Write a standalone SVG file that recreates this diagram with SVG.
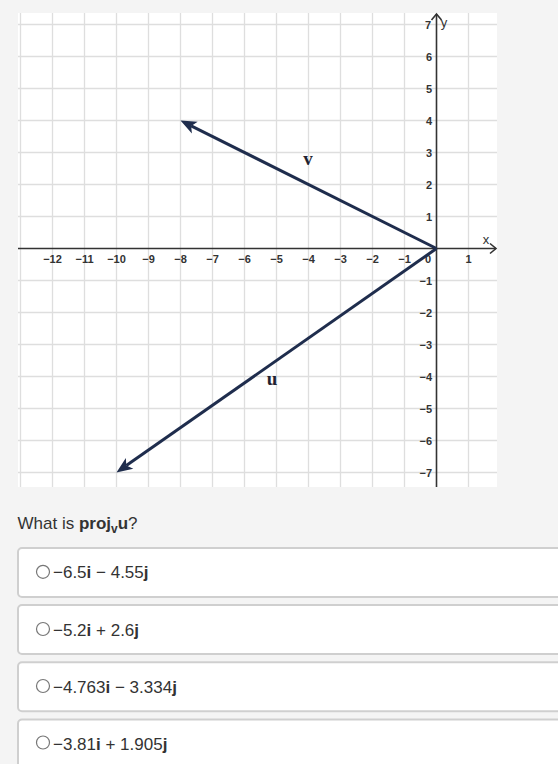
<svg xmlns="http://www.w3.org/2000/svg" width="558" height="764" viewBox="0 0 558 764">
<style>
.grid{stroke:#dedede;stroke-width:1.3;fill:none}
.axis{stroke:#333;stroke-width:1.6;fill:none}
.tick{font-family:"Liberation Sans",Arial,sans-serif;font-size:11px;font-weight:bold;fill:#333}
.xt{text-anchor:middle}
.yt{text-anchor:end}
.vec{stroke:#1f2d4d;stroke-width:3;fill:none}
.vlab{font-family:"Liberation Serif","Times New Roman",serif;font-size:19px;font-weight:bold;fill:#1f2330}
.q{font-family:"Liberation Sans",Arial,sans-serif;font-size:17px;fill:#333}
.b{font-weight:bold}
.box{fill:#fff;stroke:#cfcfcf;stroke-width:2}
.radio{fill:#fff;stroke:#777;stroke-width:1.2}
</style>
<defs>
<marker id="ah" markerUnits="userSpaceOnUse" orient="auto" refX="0" refY="0" markerWidth="30" markerHeight="30" overflow="visible">
<path d="M12,0 L-4,-6.5 L0,0 L-4,6.5 Z" fill="#1f2d4d"/>
</marker>
</defs>
<rect width="558" height="764" fill="#f4f4f4"/>
<g id="graph">
<rect x="18" y="13" width="479" height="474" fill="#fff"/>
<g class="grid">
<path d="M20.5,13V487M52.5,13V487M84.5,13V487M116.5,13V487M148.5,13V487M180.5,13V487M212.5,13V487M244.5,13V487M276.5,13V487M308.5,13V487M340.5,13V487M372.5,13V487M404.5,13V487M468.5,13V487"/>
<path d="M18,24.5H497M18,56.5H497M18,88.5H497M18,120.5H497M18,152.5H497M18,184.5H497M18,216.5H497M18,280.5H497M18,312.5H497M18,344.5H497M18,376.5H497M18,408.5H497M18,440.5H497M18,472.5H497"/>
</g>
<g class="axis">
<path d="M18,248.5H496"/>
<path d="M490,243.5L496,248.5L490,253.5"/>
<path d="M436.5,487V14"/>
<path d="M431.5,20L436.5,14L441.5,20"/>
</g>
<text x="486" y="244" class="q" style="font-size:13px" text-anchor="middle">x</text>
<text x="444" y="27" class="q" style="font-size:13px" text-anchor="middle">y</text>
<g class="tick xt">
<text x="52.5" y="263">−12</text>
<text x="84.5" y="263">−11</text>
<text x="116.5" y="263">−10</text>
<text x="148.5" y="263">−9</text>
<text x="180.5" y="263">−8</text>
<text x="212.5" y="263">−7</text>
<text x="244.5" y="263">−6</text>
<text x="276.5" y="263">−5</text>
<text x="308.5" y="263">−4</text>
<text x="340.5" y="263">−3</text>
<text x="372.5" y="263">−2</text>
<text x="404.5" y="263">−1</text>
<text x="428" y="263">0</text>
<text x="468.5" y="263">1</text>
</g>
<g class="tick yt">
<text x="431" y="28.5">7</text>
<text x="432" y="60.5">6</text>
<text x="432" y="92.5">5</text>
<text x="432" y="124.5">4</text>
<text x="432" y="156.5">3</text>
<text x="432" y="188.5">2</text>
<text x="432" y="220.5">1</text>
<text x="432" y="284.5">−1</text>
<text x="432" y="316.5">−2</text>
<text x="432" y="348.5">−3</text>
<text x="432" y="380.5">−4</text>
<text x="432" y="412.5">−5</text>
<text x="432" y="444.5">−6</text>
<text x="432" y="476.5">−7</text>
</g>
</g>
<g id="connectors">
<path id="vec-v" class="vec" d="M436.5,248.5L191.2,125.9" marker-end="url(#ah)"/>
<path id="vec-u" class="vec" d="M436.5,248.5L126.3,465.6" marker-end="url(#ah)"/>
</g>
<g id="label-v"><text x="308" y="165" class="vlab" text-anchor="middle">v</text></g>
<g id="label-u"><text x="272" y="385" class="vlab" text-anchor="middle">u</text></g>
<g id="question">
<text x="17.5" y="529" class="q">What is <tspan class="b">proj</tspan><tspan class="b" dy="4" style="font-size:12px">v</tspan><tspan class="b" dy="-4">u</tspan>?</text>
</g>
<g id="option1">
<rect class="box" x="18" y="548" width="560" height="49" rx="4"/>
<circle class="radio" cx="43" cy="571.8" r="6.5"/>
<text x="53" y="578.3" class="q">−6.5<tspan class="b">i</tspan> − 4.55<tspan class="b">j</tspan></text>
</g>
<g id="option2">
<rect class="box" x="18" y="605" width="560" height="49" rx="4"/>
<circle class="radio" cx="43" cy="629" r="6.5"/>
<text x="53" y="635.6" class="q">−5.2<tspan class="b">i</tspan> + 2.6<tspan class="b">j</tspan></text>
</g>
<g id="option3">
<rect class="box" x="18" y="662.3" width="560" height="49" rx="4"/>
<circle class="radio" cx="43" cy="686" r="6.5"/>
<text x="53" y="693" class="q">−4.763<tspan class="b">i</tspan> − 3.334<tspan class="b">j</tspan></text>
</g>
<g id="option4">
<rect class="box" x="18" y="719.5" width="560" height="60" rx="4"/>
<circle class="radio" cx="43" cy="742.5" r="6.5"/>
<text x="53" y="749.5" class="q">−3.81<tspan class="b">i</tspan> + 1.905<tspan class="b">j</tspan></text>
</g>
</svg>
